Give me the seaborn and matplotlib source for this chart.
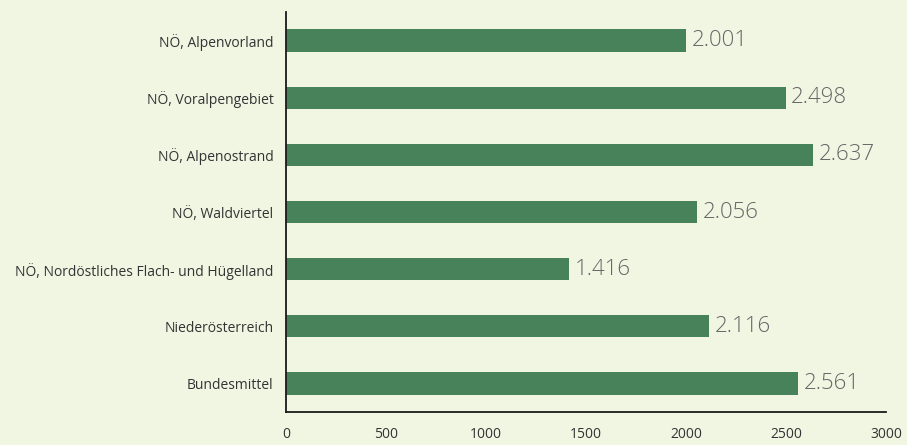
import matplotlib
matplotlib.use("Agg")
import matplotlib.pyplot as plt
import seaborn as sns
import pandas as pd

regions = [
    "NÖ, Alpenvorland",
    "NÖ, Voralpengebiet",
    "NÖ, Alpenostrand",
    "NÖ, Waldviertel",
    "NÖ, Nordöstliches Flach- und Hügelland",
    "Niederösterreich",
    "Bundesmittel",
]
values = [2001, 2498, 2637, 2056, 1416, 2116, 2561]
x_ticks = [0, 500, 1000, 1500, 2000, 2500, 3000]

BG = "#f1f6e3"
BAR = "#48825a"

sns.set_theme(style="white")
plt.rcParams["font.family"] = ["Open Sans", "DejaVu Sans"]

df = pd.DataFrame({"Region": regions, "Wert": values})

fig = plt.figure(figsize=(9.07, 4.45), dpi=100, facecolor=BG)
ax = fig.add_axes([0.3153, 0.074, 0.6615, 0.899])
ax.set_facecolor(BG)

sns.barplot(data=df, x="Wert", y="Region", color=BAR, width=0.39,
            saturation=1, linewidth=0, ax=ax)

labels = [f"{v:,}".replace(",", ".") for v in values]
ax.bar_label(ax.containers[0], labels=labels, padding=4,
             fontsize=16, color="#666666", fontweight="light")

ax.set_xlim(0, 3000)
ax.set_xticks(x_ticks)
ax.set_xticklabels([str(t) for t in x_ticks], fontsize=10, color="#333333")
ax.tick_params(axis="y", labelsize=10, labelcolor="#333333", length=0, pad=9)
ax.tick_params(axis="x", length=0, pad=11)
ax.set_xlabel("")
ax.set_ylabel("")

for side in ["top", "right"]:
    ax.spines[side].set_visible(False)
for side in ["left", "bottom"]:
    ax.spines[side].set_color("#1a1a1a")
    ax.spines[side].set_linewidth(1.3)

fig.savefig("out.png", dpi=100, facecolor=BG)
